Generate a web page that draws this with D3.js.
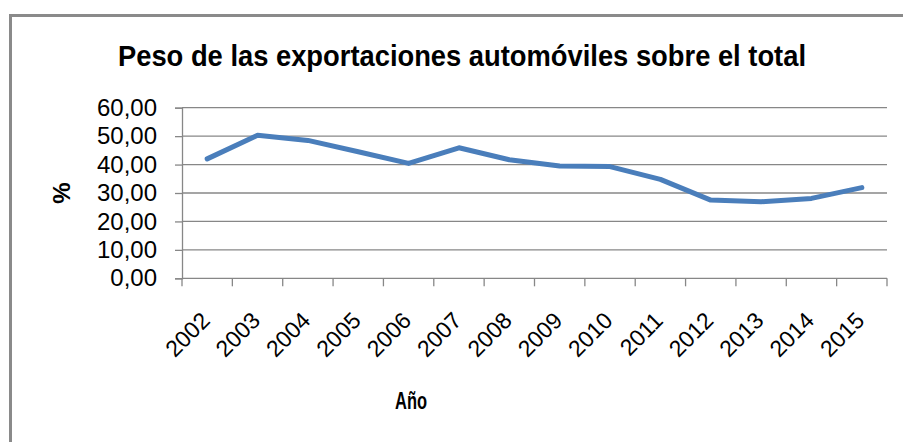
<!DOCTYPE html>
<html>
<head>
<meta charset="utf-8">
<script src="https://cdn.jsdelivr.net/npm/d3@7"></script>
<style>
  body { margin: 0; background: #fff; }
  text { font-family: "Liberation Sans", sans-serif; fill: #000; }
</style>
</head>
<body>
<svg id="chart"></svg>
<script>
// Chart data
const years = ["2002", "2003", "2004", "2005", "2006", "2007", "2008", "2009", "2010", "2011", "2012", "2013", "2014", "2015"];
const shares = [42.0, 50.3, 48.5, 44.5, 40.4, 45.9, 41.7, 39.5, 39.3, 34.8, 27.5, 26.9, 28.1, 31.9];
const yTicks = [0, 10, 20, 30, 40, 50, 60];

const width = 903;
const height = 442;

// Plot area
const plotLeft = 182, plotRight = 887, plotTop = 107.7, plotBottom = 278.3;

const svg = d3.select("#chart")
	.attr("width", width)
	.attr("height", height);

// Outer frame
svg.append("rect")
	.attr("x", 10.5)
	.attr("y", 15.5)
	.attr("width", 1000)
	.attr("height", 1000)
	.attr("fill", "none")
	.attr("stroke", "#8a8a8a")
	.attr("stroke-width", 3);

const x = d3.scaleBand()
	.domain(years)
	.range([plotLeft, plotRight]);

const y = d3.scaleLinear()
	.domain([0, 60])
	.range([plotBottom, plotTop]);

const locale = d3.formatLocale({decimal: ",", thousands: ".", grouping: [3], currency: ["", "€"]});
const fmt = locale.format(".2f");

// Gridlines
svg.append("g")
	.selectAll("line")
	.data(yTicks.filter(d => d > 0))
	.join("line")
	.attr("x1", plotLeft)
	.attr("x2", plotRight)
	.attr("y1", d => y(d))
	.attr("y2", d => y(d))
	.attr("stroke", "#878787")
	.attr("stroke-width", 1.3);

// Y axis
const yAxis = svg.append("g")
	.attr("transform", `translate(${plotLeft},0)`)
	.call(d3.axisLeft(y).tickValues(yTicks).tickSize(7).tickPadding(18).tickFormat(fmt));
yAxis.select(".domain").attr("stroke", "#878787").attr("stroke-width", 1.3);
yAxis.selectAll(".tick line").attr("stroke", "#878787").attr("stroke-width", 1.3);
yAxis.selectAll(".tick text")
	.style("font-family", "'Liberation Sans', sans-serif")
	.style("font-size", "24px")
	.attr("fill", "#000");

// X axis with ticks at band edges
const xAxis = svg.append("g")
	.attr("transform", `translate(0,${plotBottom})`);
xAxis.append("line")
	.attr("x1", plotLeft).attr("x2", plotRight)
	.attr("stroke", "#878787").attr("stroke-width", 1.3);
const edges = years.map(d => x(d)).concat([plotRight]);
xAxis.selectAll(".edge")
	.data(edges)
	.join("line")
	.attr("class", "edge")
	.attr("x1", d => d).attr("x2", d => d)
	.attr("y1", 0).attr("y2", 8)
	.attr("stroke", "#878787").attr("stroke-width", 1.3);

svg.append("g")
	.selectAll("text")
	.data(years)
	.join("text")
	.attr("transform", d => `translate(${x(d) + x.bandwidth() / 2 + 4},322) rotate(-45)`)
	.attr("text-anchor", "end")
	.style("font-size", "23px")
	.text(d => d);

// Line
const line = d3.line()
	.x((d, i) => x(years[i]) + x.bandwidth() / 2)
	.y(d => y(d));

svg.append("path")
	.datum(shares)
	.attr("d", line)
	.attr("fill", "none")
	.attr("stroke", "#4a7ebb")
	.attr("stroke-width", 5)
	.attr("stroke-linejoin", "round")
	.attr("stroke-linecap", "round");

// Title (narrowed to mimic the condensed original face)
svg.append("text")
	.attr("x", 462)
	.attr("y", 66)
	.attr("text-anchor", "middle")
	.attr("textLength", 688)
	.attr("lengthAdjust", "spacingAndGlyphs")
	.style("font-weight", "bold")
	.style("font-size", "30px")
	.text("Peso de las exportaciones automóviles sobre el total");

// Axis titles
svg.append("text")
	.attr("transform", "translate(70,193) rotate(-90)")
	.attr("text-anchor", "middle")
	.style("font-weight", "bold")
	.style("font-size", "24px")
	.text("%");

svg.append("text")
	.attr("x", 411)
	.attr("y", 409)
	.attr("text-anchor", "middle")
	.attr("textLength", 32)
	.attr("lengthAdjust", "spacingAndGlyphs")
	.style("font-weight", "bold")
	.style("font-size", "23px")
	.text("Año");
</script>
</body>
</html>
